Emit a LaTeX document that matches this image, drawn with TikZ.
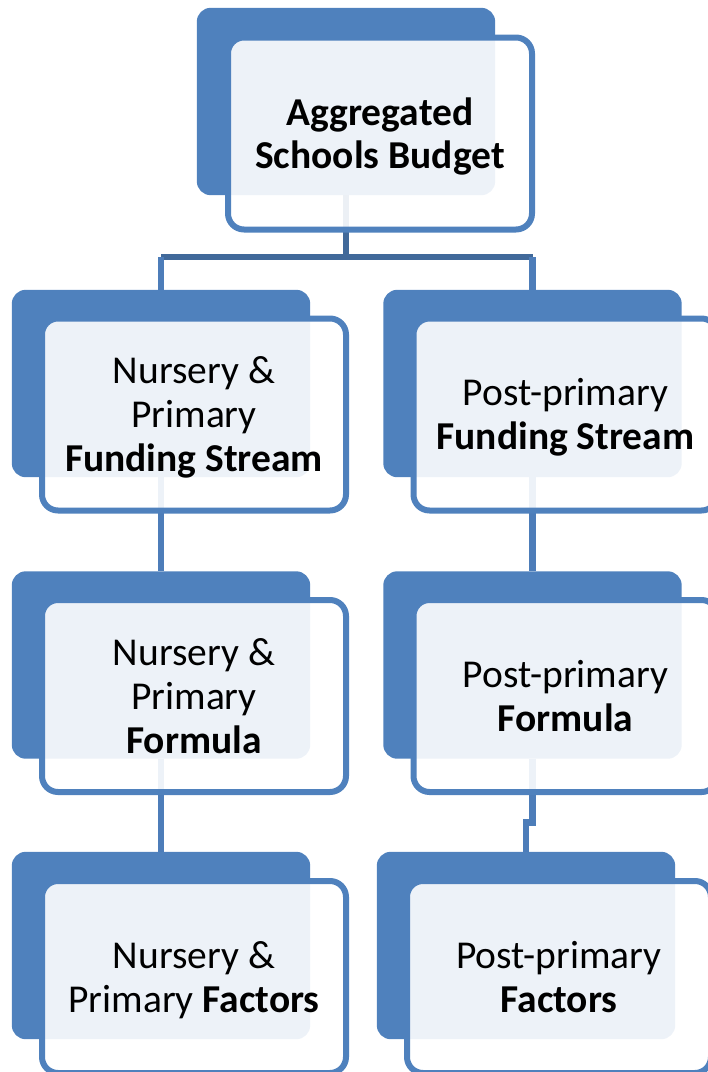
\documentclass[tikz,border=0pt]{standalone}
\usepackage{fontspec}
\setmainfont{Carlito}
\usetikzlibrary{calc}
\definecolor{dblue}{HTML}{4F81BD}
\definecolor{topline}{HTML}{41699A}
\definecolor{lowline}{HTML}{4D7DB9}
\newcommand\stt{\rule[-8pt]{0pt}{42pt}}
\tikzset{
  backbox/.style={fill=dblue, draw=none, rounded corners=14pt, minimum width=298pt, minimum height=187pt, inner sep=0pt},
  frontbox/.style={draw=dblue, line width=6pt, fill=white, fill opacity=0.9, text opacity=1, rounded corners=16pt,
    minimum width=304pt, minimum height=192pt, inner sep=0pt, align=center, text=black,
    font=\fontsize{39.5pt}{44pt}\selectfont},
  conn/.style={line width=6.5pt, draw=lowline},
  topconn/.style={line width=6.5pt, draw=topline}
}
\begin{document}
\begin{tikzpicture}[x=1pt,y=-1pt]
\useasboundingbox (0,0) rectangle (708,1072);
\clip (0,0) rectangle (708,1072);
% coordinates for back boxes
\coordinate (c0) at (346,101.5);
\coordinate (c1) at (161,383.5);
\coordinate (c2) at (532.5,383.5);
\coordinate (c3) at (161,665);
\coordinate (c4) at (532.5,665);
\coordinate (c5) at (161,945.5);
\coordinate (c6) at (526,945.5);
% back boxes (anchors)
\node[backbox, fill=none] (b0) at (c0) {};
\node[backbox, fill=none] (b1) at (c1) {};
\node[backbox, fill=none] (b2) at (c2) {};
\node[backbox, fill=none] (b3) at (c3) {};
\node[backbox, fill=none] (b4) at (c4) {};
\node[backbox, fill=none] (b5) at (c5) {};
\node[backbox, fill=none] (b6) at (c6) {};
% connectors
\coordinate (hub) at ($(b0.south)+(0,62)$);
\draw[topconn] (b0.south) -- (hub);
\draw[topconn] (hub -| b1.north) -- (hub -| b2.north);
\draw[conn] (hub -| b1.north) -- (b1.north);
\draw[conn] (hub -| b2.north) -- (b2.north);
\draw[conn] (b1.south) -- (b3.north);
\draw[conn] (b3.south) -- (b5.north);
\draw[conn] (b2.south) -- (b4.north);
\draw[conn] (b4.south) -- ($(b4.south)+(0,64)$) -| (b6.north);
% back boxes drawn
\foreach \i in {0,...,6} { \fill[dblue, rounded corners=14pt] (b\i.north west) rectangle (b\i.south east); }
% front boxes
\node[frontbox] (f0) at ($(c0)+(34,32)$) {\stt\textbf{Aggregated}\\[-1pt]\stt\textbf{Schools Budget}};
\node[frontbox] (f1) at ($(c1)+(33,31)$) {\stt Nursery \&\\\stt Primary\\\stt\textbf{Funding Stream}};
\node[frontbox] (f2) at ($(c2)+(33,31)$) {\stt Post-primary\\\stt\textbf{Funding Stream}};
\node[frontbox] (f3) at ($(c3)+(33,31)$) {\stt Nursery \&\\\stt Primary\\\stt\textbf{Formula}};
\node[frontbox] (f4) at ($(c4)+(33,31)$) {\stt Post-primary\\\stt\textbf{Formula}};
\node[frontbox] (f5) at ($(c5)+(33,31.5)$) {\stt Nursery \&\\\stt Primary \textbf{Factors}};
\node[frontbox] (f6) at ($(c6)+(33,31.5)$) {\stt Post-primary\\\stt\textbf{Factors}};
\end{tikzpicture}
\end{document}
